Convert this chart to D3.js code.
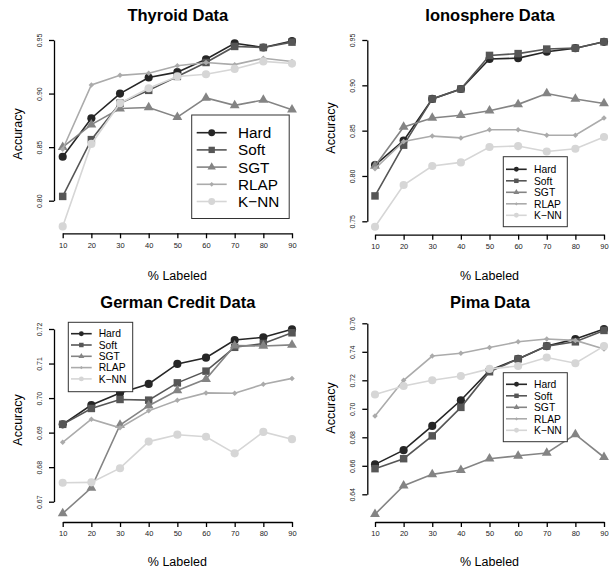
<!DOCTYPE html>
<html lang="en">
<head>
<meta charset="UTF-8">
<title>Accuracy vs % Labeled</title>
<script src="https://d3js.org/d3.v7.min.js"></script>
<style>
  body { margin: 0; background: #fff; }
  text { font-family: "Liberation Sans", Arial, Helvetica, sans-serif; }
</style>
</head>
<body>
<script>
// shared x categories and legend entries
var pct = [10, 20, 30, 40, 50, 60, 70, 80, 90];
var methods = ["Hard", "Soft", "SGT", "RLAP", "K\u2212NN"];

// Thyroid
var thyroidTicks = [0.80, 0.85, 0.90, 0.95];
var thyroidHard = [0.841, 0.877, 0.900, 0.915, 0.920, 0.932, 0.947, 0.943, 0.949];
var thyroidSoft = [0.804, 0.857, 0.891, 0.903, 0.916, 0.929, 0.944, 0.943, 0.948];
var thyroidSGT  = [0.850, 0.871, 0.886, 0.887, 0.878, 0.896, 0.889, 0.894, 0.885];
var thyroidRLAP = [0.848, 0.908, 0.917, 0.919, 0.926, 0.929, 0.927, 0.933, 0.930];
var thyroidKNN  = [0.776, 0.853, 0.891, 0.905, 0.916, 0.918, 0.923, 0.930, 0.928];

// Ionosphere
var ionoTicks = [0.75, 0.80, 0.85, 0.90, 0.95];
var ionoHard = [0.812, 0.839, 0.885, 0.896, 0.929, 0.930, 0.937, 0.941, 0.948];
var ionoSoft = [0.778, 0.834, 0.885, 0.896, 0.933, 0.935, 0.940, 0.941, 0.948];
var ionoSGT  = [0.811, 0.854, 0.864, 0.867, 0.872, 0.879, 0.891, 0.885, 0.880];
var ionoRLAP = [0.808, 0.838, 0.844, 0.842, 0.851, 0.851, 0.845, 0.845, 0.864];
var ionoKNN  = [0.744, 0.790, 0.811, 0.815, 0.832, 0.833, 0.827, 0.830, 0.843];

// German Credit
var germanTicks = [0.67, 0.68, 0.69, 0.70, 0.71, 0.72];
var germanHard = [0.6924, 0.6980, 0.7015, 0.7041, 0.7099, 0.7117, 0.7168, 0.7176, 0.7199];
var germanSoft = [0.6924, 0.6970, 0.6996, 0.6994, 0.7044, 0.7078, 0.7147, 0.7158, 0.7189];
var germanSGT  = [0.6666, 0.6740, 0.6922, 0.6978, 0.7022, 0.7055, 0.7152, 0.7151, 0.7154];
var germanRLAP = [0.6872, 0.6939, 0.6914, 0.6963, 0.6994, 0.7015, 0.7014, 0.7040, 0.7057];
var germanKNN  = [0.6755, 0.6756, 0.6797, 0.6874, 0.6894, 0.6888, 0.6840, 0.6902, 0.6881];

// Pima
var pimaTicks = [0.64, 0.66, 0.68, 0.70, 0.72, 0.74, 0.76];
var pimaHard = [0.661, 0.671, 0.688, 0.706, 0.727, 0.735, 0.744, 0.749, 0.756];
var pimaSoft = [0.658, 0.665, 0.681, 0.701, 0.726, 0.735, 0.744, 0.747, 0.755];
var pimaSGT  = [0.626, 0.646, 0.654, 0.657, 0.665, 0.667, 0.669, 0.682, 0.666];
var pimaRLAP = [0.695, 0.720, 0.737, 0.739, 0.743, 0.747, 0.749, 0.748, 0.742];
var pimaKNN  = [0.710, 0.716, 0.720, 0.723, 0.728, 0.730, 0.736, 0.732, 0.744];

var colors = ["#262626", "#565656", "#848484", "#ababab", "#d6d6d6"];

var width = 609, height = 572;
var svg = d3.select("body").append("svg").attr("width", width).attr("height", height);

// layout per panel (pixel positions of first/last x tick and first/last y tick)
var panels = [
  { title: "Thyroid Data", ticks: thyroidTicks,
    series: [thyroidHard, thyroidSoft, thyroidSGT, thyroidRLAP, thyroidKNN],
    x0: 62.7, x1: 292, yLo: 200.7, yHi: 40, axisY: 233.3, axisX: 54,
    titleY: 20.7, xlabY: 280, ylabX: 22, ylabY: 134,
    leg: { x: 191.7, y: 115, w: 97.5, h: 103.5, row0: 132.7, step: 17.2, seg0: 196.7, seg1: 226.7, tx: 238, fs: 15.3, ms: 0.85 } },
  { title: "Ionosphere Data", ticks: ionoTicks,
    series: [ionoHard, ionoSoft, ionoSGT, ionoRLAP, ionoKNN],
    x0: 375, x1: 604, yLo: 221.3, yHi: 40, axisY: 234.7, axisX: 367.3,
    titleY: 20.7, xlabY: 280, ylabX: 335, ylabY: 128,
    leg: { x: 503.3, y: 156.7, w: 64, h: 70, row0: 169.3, step: 11.5, seg0: 506, seg1: 526.7, tx: 534, fs: 10.3, ms: 0.6 } },
  { title: "German Credit Data", ticks: germanTicks,
    series: [germanHard, germanSoft, germanSGT, germanRLAP, germanKNN],
    x0: 62.7, x1: 292, yLo: 501.7, yHi: 329, axisY: 522, axisX: 54,
    titleY: 308.3, xlabY: 566, ylabX: 22, ylabY: 420,
    leg: { x: 68.3, y: 322.3, w: 64.4, h: 69.4, row0: 333.7, step: 11.3, seg0: 71, seg1: 91.7, tx: 98.7, fs: 10.3, ms: 0.6 } },
  { title: "Pima Data", ticks: pimaTicks,
    series: [pimaHard, pimaSoft, pimaSGT, pimaRLAP, pimaKNN],
    x0: 375, x1: 604, yLo: 494.3, yHi: 323.3, axisY: 522, axisX: 367.3,
    titleY: 308.3, xlabY: 566, ylabX: 335, ylabY: 408,
    leg: { x: 503.3, y: 372.7, w: 64, h: 69, row0: 384.3, step: 11.5, seg0: 506, seg1: 527, tx: 534, fs: 10.3, ms: 0.6 } }
];

// marker shapes: filled circle, square, triangle, small diamond, circle
function marker(i, k) {
  if (i === 0 || i === 4) return { type: d3.symbolCircle, size: 52 * k * k, rot: 0 };
  if (i === 1) return { type: d3.symbolSquare, size: 56 * k * k, rot: 0 };
  if (i === 2) return { type: d3.symbolTriangle, size: 42 * k * k, rot: 0 };
  return { type: d3.symbolSquare, size: 15 * k * k, rot: 45 };
}

panels.forEach(function(p) {
  var x = d3.scaleLinear().domain([10, 90]).range([p.x0, p.x1]);
  var t = p.ticks;
  var y = d3.scaleLinear().domain([t[0], t[t.length - 1]]).range([p.yLo, p.yHi]);
  var g = svg.append("g");

  // title
  g.append("text").attr("x", (p.x0 + p.x1) / 2 + 0.5).attr("y", p.titleY)
    .attr("text-anchor", "middle").attr("font-size", 16.5).attr("font-weight", "bold")
    .attr("fill", "#000").text(p.title);

  // x axis
  var xa = g.append("g").attr("transform", "translate(0," + p.axisY + ")")
    .call(d3.axisBottom(x).tickValues(pct).tickSize(5).tickSizeOuter(0).tickPadding(4));
  xa.select(".domain").attr("stroke", "#000").attr("stroke-width", 1.3);
  xa.selectAll(".tick line").attr("stroke", "#000").attr("stroke-width", 1.3);
  xa.selectAll(".tick text").attr("font-size", 7.5).attr("font-family", "Liberation Sans, Arial, sans-serif").attr("fill", "#222");

  // y axis, labels parallel to axis
  var ya = g.append("g").attr("transform", "translate(" + p.axisX + ",0)")
    .call(d3.axisLeft(y).tickValues(t).tickFormat(d3.format(".2f")).tickSize(5).tickSizeOuter(0));
  ya.select(".domain").attr("stroke", "#000").attr("stroke-width", 1.3);
  ya.selectAll(".tick line").attr("stroke", "#000").attr("stroke-width", 1.3);
  ya.selectAll(".tick text").attr("x", null).attr("dy", null)
    .attr("transform", "translate(-12,0) rotate(-90)")
    .attr("text-anchor", "middle").attr("font-size", 7)
    .attr("font-family", "Liberation Sans, Arial, sans-serif").attr("fill", "#222");

  // axis titles
  g.append("text").attr("x", (p.x0 + p.x1) / 2).attr("y", p.xlabY)
    .attr("text-anchor", "middle").attr("font-size", 12.5).attr("fill", "#000").text("% Labeled");
  g.append("text").attr("transform", "translate(" + p.ylabX + "," + p.ylabY + ") rotate(-90)")
    .attr("text-anchor", "middle").attr("font-size", 12.5).attr("fill", "#000").text("Accuracy");

  // series
  var line = d3.line().x(function(d, i) { return x(pct[i]); }).y(function(d) { return y(d); });
  p.series.forEach(function(vals, i) {
    g.append("path").datum(vals).attr("d", line).attr("fill", "none")
      .attr("stroke", colors[i]).attr("stroke-width", 1.6);
    var m = marker(i, 1);
    g.selectAll(null).data(vals).enter().append("path")
      .attr("transform", function(d, j) { return "translate(" + x(pct[j]) + "," + y(d) + ") rotate(" + m.rot + ")"; })
      .attr("d", d3.symbol().type(m.type).size(m.size))
      .attr("fill", colors[i]);
  });

  // legend
  var L = p.leg;
  g.append("rect").attr("x", L.x).attr("y", L.y).attr("width", L.w).attr("height", L.h)
    .attr("fill", "#fff").attr("stroke", "#333").attr("stroke-width", 1);
  methods.forEach(function(name, i) {
    var ry = L.row0 + i * L.step;
    g.append("line").attr("x1", L.seg0).attr("x2", L.seg1).attr("y1", ry).attr("y2", ry)
      .attr("stroke", colors[i]).attr("stroke-width", 1.6);
    var m = marker(i, L.ms);
    g.append("path")
      .attr("transform", "translate(" + ((L.seg0 + L.seg1) / 2) + "," + ry + ") rotate(" + m.rot + ")")
      .attr("d", d3.symbol().type(m.type).size(m.size)).attr("fill", colors[i]);
    g.append("text").attr("x", L.tx).attr("y", ry).attr("dy", "0.36em")
      .attr("font-size", L.fs).attr("fill", "#000").text(name);
  });
});
</script>
</body>
</html>
